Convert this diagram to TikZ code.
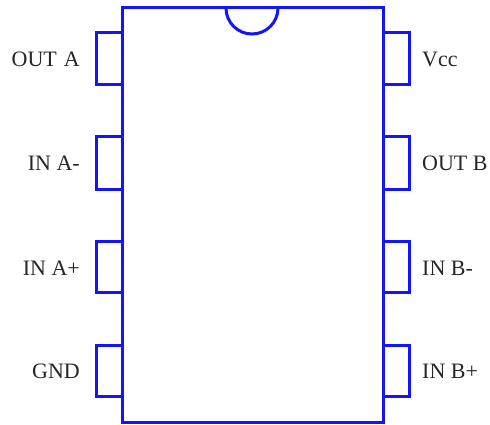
\documentclass[tikz,border=0pt]{standalone}
\usepackage{fontspec}
\setmainfont{Liberation Serif}
\definecolor{pinblue}{RGB}{20,20,250}
\tikzset{
  outline/.style={draw=pinblue,line width=3pt,line join=miter},
  lbl/.style={font=\fontsize{22}{24}\selectfont,text=black!85,inner sep=0pt},
  leftlbl/.style={lbl,anchor=base east},
  rightlbl/.style={lbl,anchor=base west}
}
\begin{document}
\begin{tikzpicture}[x=1pt,y=-1pt]
\useasboundingbox (0,0) rectangle (490,425);
\fill[white] (0,0) rectangle (490,425);
\foreach \t/\b in {33/85,137/189,241/292,345/396}{
  \draw[outline] (122,\t) -- (96,\t) -- (96,\b) -- (122,\b);
  \draw[outline] (383,\t) -- (409,\t) -- (409,\b) -- (383,\b);
}
\draw[outline] (122,8) rectangle (383,422);
\draw[outline] (226,8) arc[start angle=180,end angle=360,radius=26,y radius=-26];
\node[leftlbl] (oa) at (80,67) {OUT\kern1.5pt\ A};
\node[leftlbl] (ia) at (80,171) {IN A-};
\node[leftlbl] (ip) at (80,275) {IN A+};
\node[leftlbl] (gnd) at (80,378) {GND};
\node[rightlbl] (vcc) at (422,67) {Vcc};
\node[rightlbl] (ob) at (422,171) {OUT B};
\node[rightlbl] (ibm) at (422,275) {IN B-};
\node[rightlbl] (ibp) at (422,378) {IN B+};
\end{tikzpicture}
\end{document}
